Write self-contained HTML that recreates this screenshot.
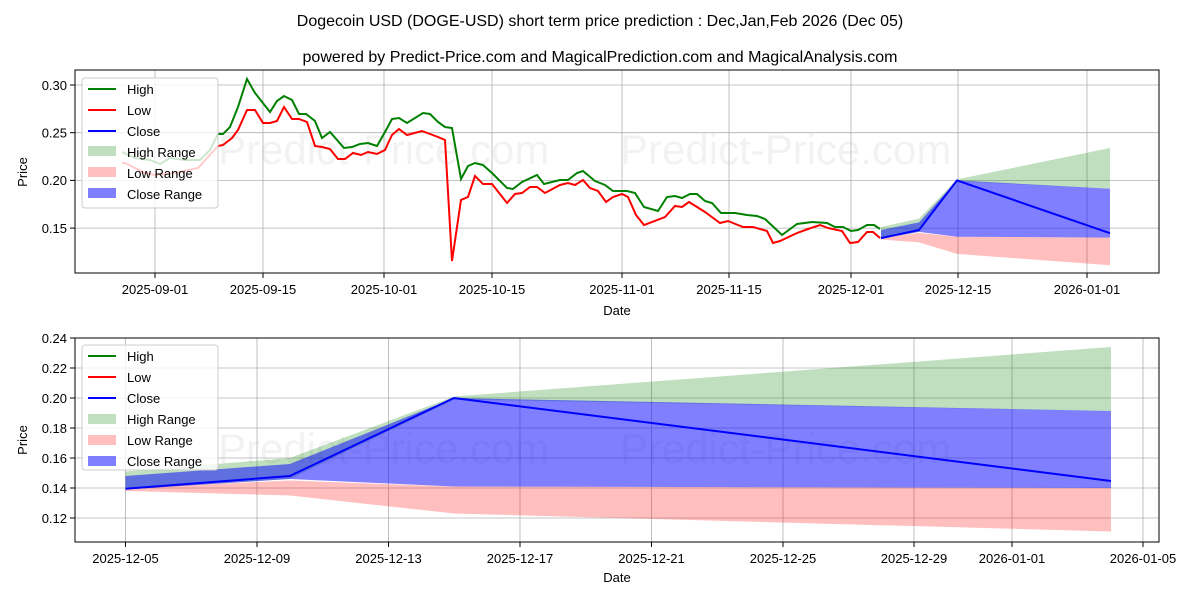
<!DOCTYPE html>
<html><head><meta charset="utf-8"><style>
body{margin:0;background:#fff;}
svg{display:block;font-family:"Liberation Sans","DejaVu Sans",sans-serif;}
.t{font-size:13px;fill:#000;}
.g{stroke:#b0b0b0;stroke-width:0.8;}
.wm{font-size:42px;fill:#000;fill-opacity:0.05;}
</style></head><body>
<svg width="1200" height="600" viewBox="0 0 1200 600">
<rect width="1200" height="600" fill="#fff"/>
<text x="600" y="26" text-anchor="middle" style="font-size:16px">Dogecoin USD (DOGE-USD) short term price prediction : Dec,Jan,Feb 2026 (Dec 05)</text>
<text x="600" y="62" text-anchor="middle" style="font-size:16px">powered by Predict-Price.com and MagicalPrediction.com and MagicalAnalysis.com</text>

<!-- TOP CHART -->
<g>
<text class="wm" x="218" y="164">Predict-Price.com</text>
<text class="wm" x="620" y="164">Predict-Price.com</text>
<g class="g">
<line x1="75" x2="1159" y1="85" y2="85"/><line x1="75" x2="1159" y1="132.7" y2="132.7"/><line x1="75" x2="1159" y1="180.4" y2="180.4"/><line x1="75" x2="1159" y1="228.1" y2="228.1"/>
<line x1="155" x2="155" y1="70" y2="273"/><line x1="263" x2="263" y1="70" y2="273"/><line x1="384" x2="384" y1="70" y2="273"/><line x1="492" x2="492" y1="70" y2="273"/><line x1="622" x2="622" y1="70" y2="273"/><line x1="729" x2="729" y1="70" y2="273"/><line x1="851" x2="851" y1="70" y2="273"/><line x1="958" x2="958" y1="70" y2="273"/><line x1="1087" x2="1087" y1="70" y2="273"/>
</g>
<polygon fill="green" fill-opacity="0.25" points="881,227.1 919,218.6 957,179.4 1110,148 1110,188.7 957,181.4 919,231.9 881,238.6"/>
<polygon fill="red" fill-opacity="0.25" points="881,237.6 919,232.9 957,236.7 1110,237.6 1110,265.3 957,253.9 919,242.4 881,239.5"/>
<polygon fill="blue" fill-opacity="0.5" points="881,230 919,222.4 957,180.4 1110,188.7 1110,237.6 957,236.7 919,231.9 881,238.6"/>
<polyline fill="none" stroke="green" stroke-width="2" points="122,152 135,158 150,160 160,164 170,158 185,160 200,160 210,150 218,134 223,134 230,127 238,107 247,79 255,93 270,112 277,101 284,96 292,100 299,114 306,114 315,121 322,138 330,132 344,148 352,147 360,144 368,143 377,146 385,132 392,119 399,118 407,123 423,113 430,114 438,122 445,127 452,128 461,179 468,166 475,163 483,165 492,173 507,188 513,189 522,182 537,175 544,184 560,180 568,180 577,173 583,171 595,181 605,185 613,191 627,191 635,193 644,207 658,211 667,197 675,196 682,198 690,194 697,194 705,201 712,203 721,213 728,213 735,213 747,215 757,216 765,219 782,235 797,224 812,222 827,223 835,227 843,227 851,231 858,230 867,225 874,225 880,229"/>
<polyline fill="none" stroke="red" stroke-width="2" points="122,163 125,163 145,173 155,175 175,173 198,168 218,146 223,145 232,138 238,130 247,110 255,110 263,123 270,123 277,121 284,107 292,119 299,119 307,122 315,146 322,147 330,149 338,159 345,159 353,153 361,155 368,152 377,154 385,150 392,135 399,129 407,135 422,131 438,137 445,140 452,261 461,200 468,197 475,176 483,184 492,184 507,203 515,194 522,193 530,187 537,187 545,193 560,185 568,183 575,185 583,180 590,188 598,191 606,202 613,197 622,194 628,197 636,215 644,225 665,217 675,206 682,207 689,202 705,212 720,223 728,221 743,227 753,227 767,231 773,243 780,241 797,233 808,229 820,225 828,228 842,231 850,243 858,242 867,232 873,232 880,238"/>
<polyline fill="none" stroke="blue" stroke-width="2" points="881,238.1 919,230 957,180.4 1110,233.2"/>
<rect x="75" y="70" width="1084" height="203" fill="none" stroke="#000" stroke-width="1"/>
<g stroke="#000"><line x1="70" x2="75" y1="85" y2="85"/><line x1="70" x2="75" y1="132.7" y2="132.7"/><line x1="70" x2="75" y1="180.4" y2="180.4"/><line x1="70" x2="75" y1="228.1" y2="228.1"/>
<line x1="155" x2="155" y1="273" y2="278"/><line x1="263" x2="263" y1="273" y2="278"/><line x1="384" x2="384" y1="273" y2="278"/><line x1="492" x2="492" y1="273" y2="278"/><line x1="622" x2="622" y1="273" y2="278"/><line x1="729" x2="729" y1="273" y2="278"/><line x1="851" x2="851" y1="273" y2="278"/><line x1="958" x2="958" y1="273" y2="278"/><line x1="1087" x2="1087" y1="273" y2="278"/></g>
<g class="t" text-anchor="end"><text x="67" y="90">0.30</text><text x="67" y="137.5">0.25</text><text x="67" y="185">0.20</text><text x="67" y="233">0.15</text></g>
<g class="t" text-anchor="middle"><text x="155" y="294">2025-09-01</text><text x="263" y="294">2025-09-15</text><text x="384" y="294">2025-10-01</text><text x="492" y="294">2025-10-15</text><text x="622" y="294">2025-11-01</text><text x="729" y="294">2025-11-15</text><text x="851" y="294">2025-12-01</text><text x="958" y="294">2025-12-15</text><text x="1087" y="294">2026-01-01</text></g>
<text class="t" x="617" y="315" text-anchor="middle">Date</text>
<text class="t" transform="translate(27,172) rotate(-90)" text-anchor="middle">Price</text>
<rect x="82" y="78" width="136" height="130" rx="3" fill="#fff" fill-opacity="0.8" stroke="#ccc"/>
<line x1="88" x2="116" y1="89" y2="89" stroke="green" stroke-width="2"/>
<line x1="88" x2="116" y1="110" y2="110" stroke="red" stroke-width="2"/>
<line x1="88" x2="116" y1="131" y2="131" stroke="blue" stroke-width="2"/>
<rect x="88" y="146" width="28" height="10" fill="green" fill-opacity="0.25"/>
<rect x="88" y="167" width="28" height="10" fill="red" fill-opacity="0.25"/>
<rect x="88" y="188" width="28" height="10" fill="blue" fill-opacity="0.5"/>
<g class="t"><text x="127" y="94">High</text><text x="127" y="115">Low</text><text x="127" y="136">Close</text><text x="127" y="157">High Range</text><text x="127" y="178">Low Range</text><text x="127" y="199">Close Range</text></g>
</g>

<!-- BOTTOM CHART -->
<g>
<text class="wm" x="218" y="463">Predict-Price.com</text>
<text class="wm" x="620" y="463">Predict-Price.com</text>
<g class="g">
<line x1="75" x2="1159" y1="338" y2="338"/><line x1="75" x2="1159" y1="368" y2="368"/><line x1="75" x2="1159" y1="398" y2="398"/><line x1="75" x2="1159" y1="428" y2="428"/><line x1="75" x2="1159" y1="458" y2="458"/><line x1="75" x2="1159" y1="488" y2="488"/><line x1="75" x2="1159" y1="518" y2="518"/>
<line x1="125.5" x2="125.5" y1="338" y2="542"/><line x1="257" x2="257" y1="338" y2="542"/><line x1="388.5" x2="388.5" y1="338" y2="542"/><line x1="520" x2="520" y1="338" y2="542"/><line x1="651.5" x2="651.5" y1="338" y2="542"/><line x1="783" x2="783" y1="338" y2="542"/><line x1="914" x2="914" y1="338" y2="542"/><line x1="1012" x2="1012" y1="338" y2="542"/><line x1="1143" x2="1143" y1="338" y2="542"/>
</g>
<polygon fill="green" fill-opacity="0.25" points="125.5,471.5 289.8,458 454,396.5 1111,347 1111,411 454,399.5 289.8,479 125.5,489.5"/>
<polygon fill="red" fill-opacity="0.25" points="125.5,488 289.8,480.5 454,486.5 1111,488 1111,531.5 454,513.5 289.8,495.5 125.5,491"/>
<polygon fill="blue" fill-opacity="0.5" points="125.5,476 289.8,464 454,398 1111,411 1111,488 454,486.5 289.8,479 125.5,489.5"/>
<polyline fill="none" stroke="blue" stroke-width="2" points="125.5,488.8 289.8,476 454,398 1111,481"/>
<rect x="75" y="338" width="1084" height="204" fill="none" stroke="#000" stroke-width="1"/>
<g stroke="#000"><line x1="70" x2="75" y1="338" y2="338"/><line x1="70" x2="75" y1="368" y2="368"/><line x1="70" x2="75" y1="398" y2="398"/><line x1="70" x2="75" y1="428" y2="428"/><line x1="70" x2="75" y1="458" y2="458"/><line x1="70" x2="75" y1="488" y2="488"/><line x1="70" x2="75" y1="518" y2="518"/>
<line x1="125.5" x2="125.5" y1="542" y2="547"/><line x1="257" x2="257" y1="542" y2="547"/><line x1="388.5" x2="388.5" y1="542" y2="547"/><line x1="520" x2="520" y1="542" y2="547"/><line x1="651.5" x2="651.5" y1="542" y2="547"/><line x1="783" x2="783" y1="542" y2="547"/><line x1="914" x2="914" y1="542" y2="547"/><line x1="1012" x2="1012" y1="542" y2="547"/><line x1="1143" x2="1143" y1="542" y2="547"/></g>
<g class="t" text-anchor="end"><text x="67" y="343">0.24</text><text x="67" y="373">0.22</text><text x="67" y="403">0.20</text><text x="67" y="433">0.18</text><text x="67" y="463">0.16</text><text x="67" y="493">0.14</text><text x="67" y="523">0.12</text></g>
<g class="t" text-anchor="middle"><text x="125.5" y="563">2025-12-05</text><text x="257" y="563">2025-12-09</text><text x="388.5" y="563">2025-12-13</text><text x="520" y="563">2025-12-17</text><text x="651.5" y="563">2025-12-21</text><text x="783" y="563">2025-12-25</text><text x="914" y="563">2025-12-29</text><text x="1012" y="563">2026-01-01</text><text x="1143" y="563">2026-01-05</text></g>
<text class="t" x="617" y="582" text-anchor="middle">Date</text>
<text class="t" transform="translate(27,440) rotate(-90)" text-anchor="middle">Price</text>
<rect x="82" y="345" width="136" height="125" rx="3" fill="#fff" fill-opacity="0.8" stroke="#ccc"/>
<line x1="88" x2="116" y1="356" y2="356" stroke="green" stroke-width="2"/>
<line x1="88" x2="116" y1="377" y2="377" stroke="red" stroke-width="2"/>
<line x1="88" x2="116" y1="398" y2="398" stroke="blue" stroke-width="2"/>
<rect x="88" y="414" width="28" height="10" fill="green" fill-opacity="0.25"/>
<rect x="88" y="435" width="28" height="10" fill="red" fill-opacity="0.25"/>
<rect x="88" y="456" width="28" height="10" fill="blue" fill-opacity="0.5"/>
<g class="t"><text x="127" y="361">High</text><text x="127" y="382">Low</text><text x="127" y="403">Close</text><text x="127" y="424">High Range</text><text x="127" y="445">Low Range</text><text x="127" y="466">Close Range</text></g>
</g>
</svg>
</body></html>
